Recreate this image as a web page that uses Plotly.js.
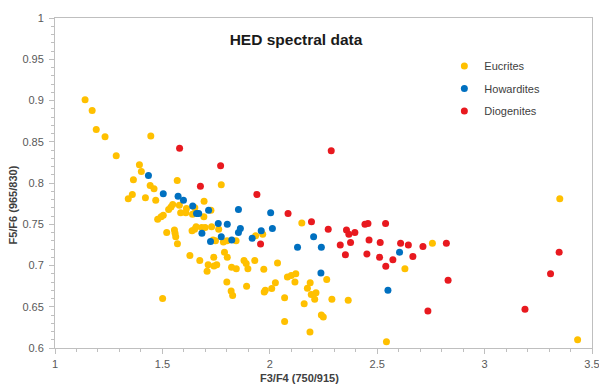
<!DOCTYPE html>
<html>
<head>
<meta charset="utf-8">
<script src="https://cdn.plot.ly/plotly-3.0.1.min.js"></script>
<style>
html,body{margin:0;padding:0;background:#fff;}
#chart{width:599px;height:385px;}
</style>
</head>
<body>
<div id="chart"></div>
<script>
// ---- data ----
const seriesNames = ["Eucrites", "Howardites", "Diogenites"];
const chartTitle = "HED spectral data";
const xAxisTitle = "F3/F4 (750/915)";
const yAxisTitle = "F5/F6 (965/830)";

const eucritesX = [1.140,1.173,1.192,1.233,1.285,1.446,1.393,1.402,1.365,1.443,
  1.461,1.569,1.774,1.360,1.341,1.421,1.469,1.478,1.494,1.504,
  1.520,1.529,1.540,1.548,1.579,1.585,1.609,1.612,1.640,1.651,
  1.694,1.693,1.726,1.556,1.559,1.562,1.570,1.638,1.650,1.657,
  1.683,1.699,1.729,1.762,1.736,1.747,1.784,1.801,1.843,1.628,
  1.674,1.713,1.739,1.740,1.753,1.708,1.789,1.802,1.822,1.844,
  1.800,1.820,1.827,1.892,1.880,1.890,1.898,1.930,1.934,1.967,
  1.972,1.974,1.979,2.009,2.026,2.036,2.069,2.069,2.082,2.100,
  2.121,2.117,1.501,2.149,2.757,2.629,2.188,2.175,2.193,2.209,
  2.215,2.265,2.289,2.365,2.160,2.240,2.249,2.187,2.543,3.433,
  3.350];
const eucritesY = [0.901,0.888,0.865,0.856,0.833,0.857,0.822,0.814,0.804,0.797,
  0.793,0.803,0.798,0.786,0.781,0.782,0.779,0.756,0.759,0.761,
  0.740,0.768,0.771,0.774,0.773,0.764,0.764,0.769,0.762,0.770,
  0.778,0.759,0.767,0.743,0.739,0.735,0.7265,0.742,0.744,0.747,
  0.746,0.746,0.747,0.744,0.731,0.730,0.7285,0.730,0.730,0.712,
  0.706,0.701,0.710,0.6995,0.701,0.693,0.716,0.710,0.698,0.696,
  0.680,0.669,0.6635,0.675,0.706,0.7025,0.696,0.706,0.736,0.738,
  0.6955,0.668,0.670,0.672,0.679,0.703,0.661,0.632,0.686,0.688,
  0.690,0.680,0.660,0.7515,0.727,0.696,0.679,0.6725,0.665,0.659,
  0.667,0.683,0.659,0.658,0.6535,0.640,0.6375,0.6195,0.6076,0.610,
  0.781];

const howarditesX = [1.435,1.504,1.573,1.598,1.641,1.659,1.669,1.715,1.684,1.724,
  1.760,1.774,1.802,1.823,1.854,1.863,1.854,1.918,1.960,2.004,
  2.012,2.129,2.204,2.240,2.238,2.604,2.550];
const howarditesY = [0.809,0.787,0.784,0.779,0.772,0.763,0.763,0.767,0.739,0.729,
  0.751,0.735,0.750,0.731,0.768,0.745,0.740,0.733,0.742,0.764,
  0.745,0.722,0.735,0.722,0.691,0.716,0.670];

const diogenitesX = [1.580,1.771,1.677,1.940,2.286,1.957,2.085,2.194,2.272,2.357,
  2.368,2.396,2.443,2.457,2.539,2.328,2.376,2.352,2.452,2.462,
  2.514,2.511,2.540,2.573,2.609,2.645,2.666,2.713,2.822,2.830,
  2.736,3.188,3.307,3.347];
const diogenitesY = [0.842,0.821,0.796,0.786,0.839,0.726,0.763,0.753,0.744,0.743,
  0.738,0.740,0.750,0.751,0.751,0.725,0.728,0.713,0.714,0.731,
  0.728,0.710,0.699,0.707,0.727,0.725,0.711,0.723,0.727,0.682,
  0.645,0.647,0.690,0.716];

const xTickVals = [1, 1.5, 2, 2.5, 3, 3.5];
const xTickText = ["1", "1.5", "2", "2.5", "3", "3.5"];
const yTickVals = [0.6, 0.65, 0.7, 0.75, 0.8, 0.85, 0.9, 0.95, 1];
const yTickText = ["0.6", "0.65", "0.7", "0.75", "0.8", "0.85", "0.9", "0.95", "1"];

// ---- styles ----
const colors = ["#FFC000", "#0070C0", "#E8191F"];
const FONT = "Liberation Sans, Arial, sans-serif";

function mk(x, y, i) {
  return {
    type: "scatter", mode: "markers", x: x, y: y, name: seriesNames[i],
    legendgroup: "g" + i,
    marker: {color: colors[i], size: 7, line: {width: 0}},
    hoverinfo: "x+y+name"
  };
}

const data = [
  mk(eucritesX, eucritesY, 0),
  mk(howarditesX, howarditesY, 1),
  mk(diogenitesX, diogenitesY, 2)
];

const axisCommon = {
  showgrid: false, zeroline: false,
  showline: true, linecolor: "#BFBFBF", linewidth: 1, mirror: true,
  ticks: "outside", ticklen: 5, tickwidth: 1, tickcolor: "#BFBFBF",
  tickfont: {family: FONT, size: 11, color: "#595959"},
  tickmode: "array", ticklabeloverflow: "allow"
};

const layout = {
  width: 599, height: 385,
  paper_bgcolor: "#fff", plot_bgcolor: "#fff",
  margin: {l: 54.5, r: 7.3, t: 17.5, b: 36.7, pad: 0},
  font: {family: FONT, color: "#404040"},
  title: {
    text: "<b>" + chartTitle + "</b>",
    font: {family: FONT, size: 15.5, color: "#1a1a1a"},
    x: 296 / 599, xanchor: "center", xref: "container",
    y: 1 - 40 / 385, yanchor: "middle", yref: "container"
  },
  xaxis: Object.assign({}, axisCommon, {
    range: [1, 3.5], tickvals: xTickVals, ticktext: xTickText,
    ticklabelstandoff: 1,
    minor: {dtick: 0.1, ticks: "outside", ticklen: 3, tickcolor: "#BFBFBF", showgrid: false}
  }),
  yaxis: Object.assign({}, axisCommon, {
    range: [0.6, 1], tickvals: yTickVals, ticktext: yTickText,
    ticklabelstandoff: 3,
    minor: {dtick: 0.01, ticks: "outside", ticklen: 3, tickcolor: "#BFBFBF", showgrid: false}
  }),
  showlegend: true,
  legend: {
    x: (444 - 54.5) / 537.2, xanchor: "left",
    y: (348.3 - 51) / 330.8, yanchor: "top",
    bgcolor: "rgba(0,0,0,0)", borderwidth: 0,
    font: {family: FONT, size: 11, color: "#404040"},
    tracegroupgap: 3.5, itemwidth: 30
  },
  annotations: [
    {
      text: "<b>" + xAxisTitle + "</b>", xref: "paper", yref: "paper",
      x: (299 - 54.5) / 537.2, y: (348.3 - 378) / 330.8,
      xanchor: "center", yanchor: "middle", showarrow: false,
      font: {family: FONT, size: 11, color: "#404040"}
    },
    {
      text: "<b>" + yAxisTitle + "</b>", xref: "paper", yref: "paper",
      x: (13 - 54.5) / 537.2, y: (348.3 - 205) / 330.8,
      xanchor: "center", yanchor: "middle", showarrow: false, textangle: -90,
      font: {family: FONT, size: 11, color: "#404040"}
    }
  ]
};

Plotly.newPlot("chart", data, layout, {displayModeBar: false, staticPlot: true});
</script>
</body>
</html>
